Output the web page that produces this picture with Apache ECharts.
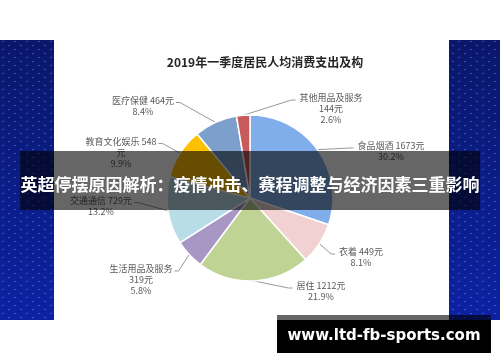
<!DOCTYPE html>
<html>
<head>
<meta charset="utf-8">
<script src="https://cdn.jsdelivr.net/npm/echarts@6/dist/echarts.min.js"></script>
<style>
html,body{margin:0;padding:0;background:#fff;}
#c{width:500px;height:362px;}
</style>
</head>
<body>
<div id="c"></div>
<script>
const categories = ['食品烟酒','衣着','居住','生活用品及服务','交通通信','教育文化娱乐','医疗保健','其他用品及服务'];
const values = [1673, 449, 1212, 319, 729, 548, 464, 144];
const percents = ['30.2','8.1','21.9','5.8','13.2','9.9','8.4','2.6'];
const chartTitle = '2019年一季度居民人均消费支出及构';
const bannerText = '英超停摆原因解析：疫情冲击、赛程调整与经济因素三重影响';
const watermarkText = 'www.ltd-fb-sports.com';

// styles / layout (not data)
const colors = ['#7FAEEB','#F1D1D1','#BFD394','#A897C4','#B8DDE8','#FFC000','#7C9FCC','#C85A5B'];
const labelBreak = ['value','value','value','name','value','unit','value','name'];
const labelPos = [[391,151.5],[361,257.5],[321,291.5],[141,280],[101,206],[121,152.5],[143,106],[331,109]];
const pieCenter = [250,198];

function makeDots(){
  const cv = document.createElement('canvas');
  cv.width = 12; cv.height = 8;
  const g = cv.getContext('2d');
  g.fillStyle = 'rgba(120,150,255,0.45)';
  g.fillRect(2,1,2,1);
  g.fillRect(8,5,2,1);
  return cv;
}

const chart = echarts.init(document.getElementById('c'), null, {renderer:'canvas'});
const option = {
  animation: false,
  graphic: [
    {type:'rect', z:-10, shape:{x:0,y:40,width:500,height:280},
      style:{fill:new echarts.graphic.LinearGradient(0,0,0,1,[{offset:0,color:'#0a176a'},{offset:1,color:'#0c22a2'}])}},
    {type:'rect', z:-9, shape:{x:0,y:40,width:500,height:280},
      style:{fill:{image:makeDots(), repeat:'repeat'}}},
    {type:'rect', z:-8, shape:{x:54,y:40,width:395,height:280}, style:{fill:'#ffffff'}},
    {type:'text', z:-7, x:265, y:62, style:{text:chartTitle, fill:'#262626', align:'center', verticalAlign:'middle',
      font:'bold 12px "Noto Sans CJK SC"'}},
    {type:'rect', z:100, shape:{x:20,y:151,width:460,height:59}, style:{fill:'rgba(0,0,0,0.6)'}},
    {type:'text', z:101, x:250, y:185, style:{text:bannerText, fill:'#ffffff', align:'center', verticalAlign:'middle',
      font:'bold 17px "Noto Sans CJK SC"'}},
    {type:'rect', z:100, shape:{x:277,y:315,width:214,height:5}, style:{fill:'rgba(0,0,0,0.6)'}},
    {type:'rect', z:100, shape:{x:277,y:320,width:214,height:33}, style:{fill:'#000000'}},
    {type:'text', z:101, x:384, y:336, style:{text:watermarkText, fill:'#ffffff', align:'center', verticalAlign:'middle',
      font:'bold 15px "DejaVu Sans"'}}
  ],
  series: [{
    type: 'pie',
    center: pieCenter,
    radius: 83,
    startAngle: 90,
    clockwise: true,
    color: colors,
    itemStyle: {borderColor:'#ffffff', borderWidth:1.5},
    emphasis: {disabled:true},
    label: {
      show: true,
      position: 'outside',
      fontFamily: 'Noto Sans CJK SC',
      fontSize: 9,
      lineHeight: 11,
      color: '#595959',
      align: 'center',
      formatter: function(p){
        const i = p.dataIndex;
        const n = categories[i], v = values[i], pc = percents[i] + '%';
        if (labelBreak[i] === 'name') return n + '\n' + v + '元\n' + pc;
        if (labelBreak[i] === 'unit') return n + ' ' + v + '\n元\n' + pc;
        return n + ' ' + v + '元\n' + pc;
      }
    },
    labelLine: {show:true, length: 12, length2: 12, smooth:false, lineStyle:{color:'#8c8c8c', width:0.9}},
    labelLayout: function(params){
      const i = params.dataIndex;
      const pos = labelPos[i];
      const w = params.labelRect.width, h = params.labelRect.height;
      const left = pos[0] - w/2, right = pos[0] + w/2, top = pos[1] - h/2;
      const onRight = pos[0] > pieCenter[0];
      const ey = top + 5.5 + 2;
      const ex = onRight ? left - 4 : right + 2;
      const mx = onRight ? ex - 4 : ex + 4;
      const res = {x: pos[0], y: pos[1], align: 'center', verticalAlign: 'middle'};
      if (params.labelLinePoints && params.labelLinePoints[0]) {
        res.labelLinePoints = [params.labelLinePoints[0].slice(), [mx, ey], [ex, ey]];
      }
      return res;
    },
    data: categories.map((c, i) => ({name: c, value: values[i]}))
  }]
};
chart.setOption(option);
</script>
</body>
</html>
